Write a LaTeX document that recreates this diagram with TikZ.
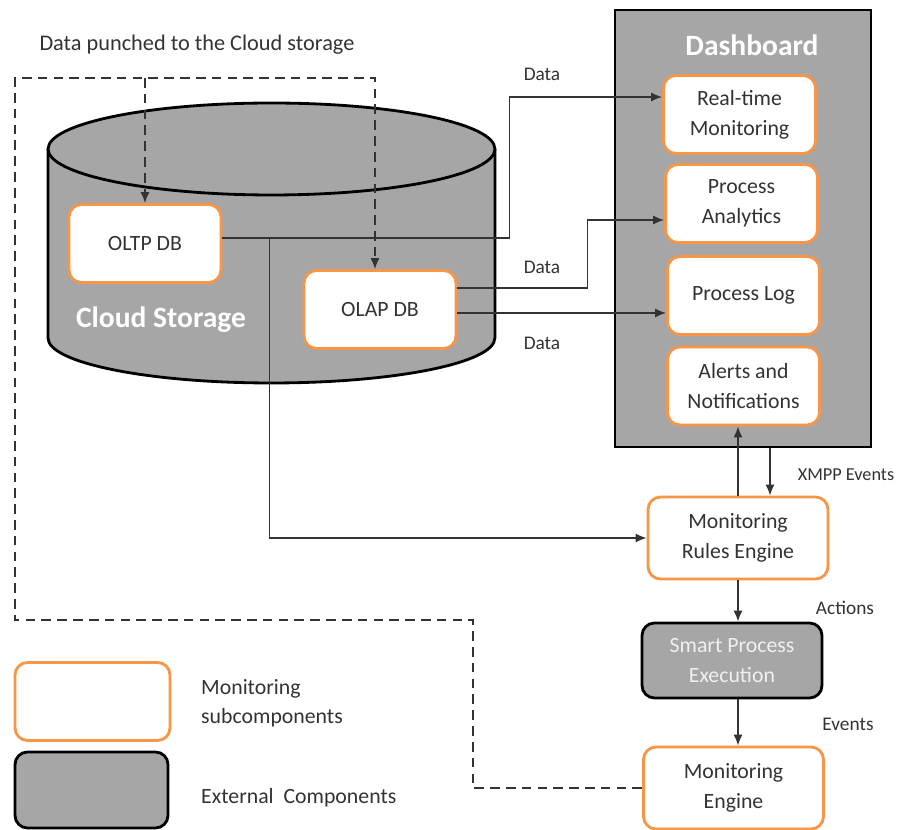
\documentclass[tikz,border=0pt]{standalone}
\usepackage{fontspec}
\setmainfont{Carlito}
\usetikzlibrary{arrows.meta}
\definecolor{boxgray}{HTML}{A6A6A6}
\definecolor{mborange}{HTML}{F79646}
\definecolor{txtgray}{HTML}{333333}

\begin{document}
\begin{tikzpicture}[x=0.02cm, y=-0.02cm,
  sub/.style={draw=mborange, line width=1.6pt, fill=white, rounded corners=0.25cm,
    minimum width=3.04cm, minimum height=1.56cm, align=center, text=txtgray,
    font=\fontsize{12.4}{17}\selectfont},
  ext/.style={sub, draw=black, fill=boxgray, text=white},
  wide/.style={minimum width=3.6cm, minimum height=1.64cm},
  lbl/.style={text=txtgray, font=\fontsize{11}{13}\selectfont},
  arr/.style={draw=txtgray, line width=0.8pt, -{Latex[length=2.2mm,width=1.8mm]}},
  punch/.style={arr, dash pattern=on 5.5pt off 3.5pt},
  title/.style={text=white, font=\fontsize{16.8}{19}\selectfont\bfseries},
  ]
  \useasboundingbox (0,0) rectangle (917,830);

  % cloud storage cylinder
  \filldraw[fill=boxgray, line width=1.6pt] (48,149) -- (48,338)
    arc[start angle=180, end angle=360, x radius=4.47cm, y radius=0.9cm] -- (495,149);
  \filldraw[fill=boxgray, line width=1.6pt] (271.5,149) ellipse [x radius=4.47cm, y radius=0.92cm];
  \node[title] (cloud) at (161,320) {Cloud Storage};

  % dashboard
  \node[draw=black, fill=boxgray, line width=1.6pt, minimum width=5.12cm, minimum height=8.74cm]
    (board) at (743,228.5) {};
  \node[title] (boardtitle) at (752,45) {Dashboard};

  \node[sub] (oltp) at (145,243.5) {OLTP DB};
  \node[sub] (olap) at (380,309.5) {OLAP DB};
  \node[sub] (rtm) at (739.5,114.5) {Real-time\\Monitoring};
  \node[sub] (pa) at (741.5,203.5) {Process\\Analytics};
  \node[sub] (pl) at (743.5,295.5) {Process Log};
  \node[sub] (alerts) at (743.5,386) {Alerts and\\Notifications};
  \node[sub, wide] (mre) at (738,538) {Monitoring\\Rules Engine};
  \node[ext, wide, minimum height=1.5cm, text=white!94!black] (spe) at (732,660.5) {Smart Process\\Execution};
  \node[sub, wide] (me) at (733.5,788) {Monitoring\\Engine};

  % legend
  \node[sub, minimum width=3.1cm] (keysub) at (92.5,701.5) {};
  \node[ext, minimum width=3.06cm, minimum height=1.52cm] (keyext) at (91.5,790) {};
  \node[lbl, font=\fontsize{12.4}{16.4}\selectfont, align=left, anchor=west] (keysubtxt) at (195,703) {Monitoring\\subcomponents};
  \node[lbl, font=\fontsize{12.4}{14}\selectfont, anchor=west] (keyexttxt) at (195,798) {External~ Components};

  % labels
  \node[lbl, font=\fontsize{12.7}{14}\selectfont] (punchtxt) at (197,45) {Data punched to the Cloud storage};
  \node[lbl] (data1) at (542,74) {Data};
  \node[lbl] (data2) at (542,267) {Data};
  \node[lbl] (data3) at (542,343) {Data};
  \node[lbl, font=\fontsize{10.4}{12}\selectfont] (xmpp) at (846,475) {XMPP Events};
  \node[lbl] (actions) at (845,608) {Actions};
  \node[lbl] (events) at (848,724) {Events};

  % data flows
  \coordinate (oltpout) at ([yshift=0.11cm]oltp.east);
  \coordinate (rtmin) at ([yshift=0.35cm]rtm.west);
  \coordinate (olapup) at ([yshift=0.43cm]olap.east);
  \coordinate (olaplo) at ([yshift=-0.07cm]olap.east);
  \coordinate (pain) at ([yshift=-0.33cm]pa.west);
  \draw[arr] (oltpout) -- ++(287,0) |- (rtmin);
  \draw[arr] (oltpout) ++(47,0) |- (mre.west);
  \draw[arr] (olapup) -- ++(130,0) |- (pain);
  \draw[arr] (olaplo) -- (olaplo -| pl.west);

  % events and actions
  \coordinate (xmppin) at ([xshift=0.64cm]mre.north);
  \draw[arr] (mre.north) -- (mre.north |- alerts.south);
  \draw[arr] (xmppin |- board.south) -- (xmppin);
  \draw[arr] (mre.south) -- (mre.south |- spe.north);
  \draw[arr] (mre.south |- spe.south) -- (mre.south |- me.north);

  % punched data
  \coordinate (tl) at (15,78);
  \coordinate (bl) at (15,620);
  \coordinate (br) at (473,620);
  \draw[punch] (me.west) -| (br) -- (bl) -- (tl) -| ([xshift=-0.1cm]olap.north);
  \draw[punch] (tl -| oltp.north) -- (oltp.north);
\end{tikzpicture}
\end{document}
